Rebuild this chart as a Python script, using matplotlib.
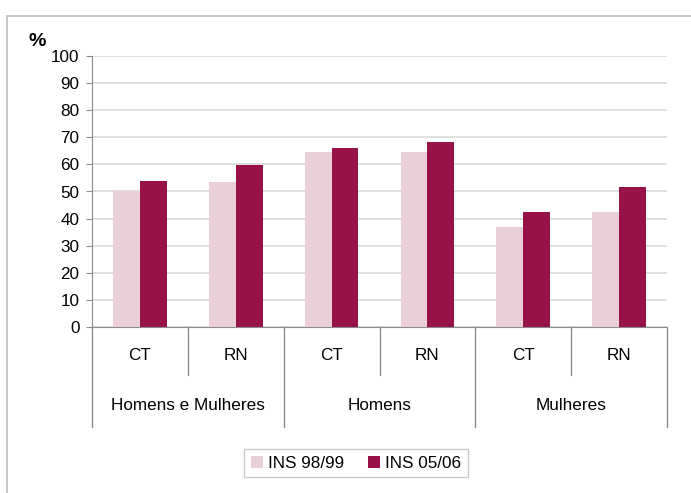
import matplotlib.pyplot as plt
from matplotlib.lines import Line2D
import numpy as np

plt.rcParams['font.family'] = ['Liberation Sans', 'DejaVu Sans']

sub_labels = ["CT", "RN", "CT", "RN", "CT", "RN"]
groups = ["Homens e Mulheres", "Homens", "Mulheres"]
ins_9899 = [50.0, 53.4, 64.5, 64.4, 37.0, 42.5]
ins_0506 = [54.0, 59.6, 66.0, 68.2, 42.5, 51.7]
yticks = list(range(0, 101, 10))

light = "#EACFDA"
dark = "#98124A"
axis_col = "#8C8C8C"
fs = 12.3

W, H = 691, 493
fig = plt.figure(figsize=(W / 100, H / 100), dpi=100)

# outer frame of the chart area
fig.add_artist(Line2D([7 / W, 7 / W], [0, 1 - 16 / H], color="#BDBDBD", lw=1.2))
fig.add_artist(Line2D([7 / W, 1], [1 - 16 / H, 1 - 16 / H], color="#BDBDBD", lw=1.2))

x0, x1, ytop, ybot = 92, 667, 56, 327
ax = fig.add_axes([x0 / W, (H - ybot) / H, (x1 - x0) / W, (ybot - ytop) / H])
ph = ybot - ytop

x = np.arange(len(sub_labels))
w = 0.28
ax.bar(x - w / 2, ins_9899, w, color=light, label="INS 98/99", zorder=3)
ax.bar(x + w / 2, ins_0506, w, color=dark, label="INS 05/06", zorder=3)

ax.set_xlim(-0.5, len(sub_labels) - 0.5)
ax.set_ylim(0, 100)
ax.set_yticks(yticks)
ax.tick_params(axis="y", length=4, color=axis_col, labelsize=fs, pad=5)
ax.set_xticks([])
ax.grid(axis="y", color="#D9D9D9", lw=1.2, zorder=0)
for s in ["top", "right"]:
    ax.spines[s].set_visible(False)
ax.spines["left"].set_color(axis_col)
ax.spines["bottom"].set_color(axis_col)

tr = ax.get_xaxis_transform()
# sub category labels and separators
for i, lab in enumerate(sub_labels):
    ax.text(i, -29 / ph, lab, transform=tr, ha="center", va="center", fontsize=fs)
for i in range(1, len(sub_labels)):
    depth = 100 if i % 2 == 0 else 48
    ax.plot([i - 0.5, i - 0.5], [0, -depth / ph], transform=tr, color=axis_col,
            lw=1, clip_on=False)
for xe in [-0.5, len(sub_labels) - 0.5]:
    ax.plot([xe, xe], [0, -100 / ph], transform=tr, color=axis_col, lw=1, clip_on=False)
for g, lab in enumerate(groups):
    ax.text(2 * g + 0.5, -79 / ph, lab, transform=tr, ha="center", va="center", fontsize=fs)

fig.text(37 / W, 1 - 42 / H, "%", fontsize=14, fontweight="bold", ha="center", va="center")

leg = fig.legend(loc="center", bbox_to_anchor=(356 / W, 1 - 463 / H), ncol=2,
                 frameon=True, fancybox=False, fontsize=fs, handlelength=0.7,
                 handleheight=0.7, handletextpad=0.3, columnspacing=1.4,
                 borderpad=0.4, borderaxespad=0.0)
leg.get_frame().set_edgecolor("#BDBDBD")
leg.get_frame().set_linewidth(1)

fig.savefig("out.png", dpi=100)
